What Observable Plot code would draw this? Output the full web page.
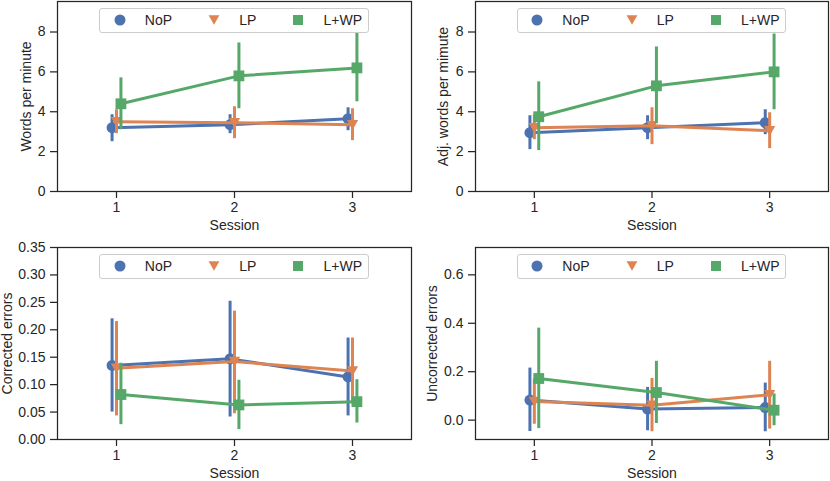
<!DOCTYPE html>
<html><head><meta charset="utf-8">
<script src="https://cdn.jsdelivr.net/npm/d3@7"></script>
<script src="https://cdn.jsdelivr.net/npm/@observablehq/plot@0.6"></script>
<style>
body{margin:0;background:#fff;}
#wrap{position:relative;width:830px;height:481px;font-family:"Liberation Sans",Arial,sans-serif;color:#262626;overflow:hidden;}
.panel{position:absolute;}
.legend{position:absolute;display:flex;align-items:center;height:25px;box-sizing:border-box;border:1px solid #cccccc;border-radius:3px;background:rgba(255,255,255,0.8);padding:0 5.6px;font-size:14px;white-space:nowrap;}
.legend .item{display:flex;align-items:center;}
.legend .handle{width:28px;height:14px;display:flex;justify-content:center;align-items:center;margin-right:11.2px;}
.legend .item + .item{margin-left:28px;}
</style>
</head><body><div id="wrap"></div>
<script>
// ---- categories ----
const sessions = [1, 2, 3];
const seriesNames = ["NoP", "LP", "L+WP"];
const seriesColors = ["#4C72B0", "#DD8452", "#55A868"];

// ---- Words per minute (rows: NoP, LP, L+WP; cols: session 1..3) ----
const wpmMean = [[3.2, 3.35, 3.65], [3.5, 3.45, 3.35], [4.4, 5.8, 6.2]];
const wpmLow  = [[2.5, 2.9, 3.05], [2.9, 2.65, 2.55], [3.1, 4.15, 4.5]];
const wpmHigh = [[3.85, 3.85, 4.2], [4.1, 4.25, 4.15], [5.7, 7.45, 7.95]];

// ---- Adj. words per minute ----
const adjMean = [[2.95, 3.2, 3.45], [3.2, 3.3, 3.05], [3.75, 5.3, 6.0]];
const adjLow  = [[2.1, 2.6, 2.85], [2.6, 2.35, 2.15], [2.05, 3.4, 4.1]];
const adjHigh = [[3.8, 3.8, 4.1], [3.85, 4.2, 3.95], [5.5, 7.25, 7.9]];

// ---- Corrected errors ----
const corMean = [[0.135, 0.147, 0.114], [0.130, 0.142, 0.125], [0.082, 0.063, 0.069]];
const corLow  = [[0.050, 0.041, 0.043], [0.043, 0.047, 0.065], [0.027, 0.018, 0.030]];
const corHigh = [[0.220, 0.252, 0.185], [0.215, 0.234, 0.185], [0.139, 0.108, 0.109]];

// ---- Uncorrected errors ----
const uncMean = [[0.083, 0.046, 0.052], [0.077, 0.061, 0.105], [0.172, 0.114, 0.041]];
const uncLow  = [[-0.047, -0.044, -0.048], [-0.017, -0.048, -0.037], [-0.035, -0.014, -0.023]];
const uncHigh = [[0.215, 0.135, 0.153], [0.170, 0.172, 0.243], [0.380, 0.243, 0.108]];

// ---- tick labels ----
const wpmTicks = [0, 2, 4, 6, 8];
const corTicks = [0, 0.05, 0.10, 0.15, 0.20, 0.25, 0.30, 0.35];
const uncTicks = [0, 0.2, 0.4, 0.6];

const dodge = 0.075;
const offsets = seriesNames.map((_, j) => -dodge / 2 + j * dodge / (seriesNames.length - 1));

const triangleDown = {
  draw(ctx, size) {
    const r = Math.sqrt(size / Math.PI);
    ctx.moveTo(-r, -r * 0.85);
    ctx.lineTo(r, -r * 0.85);
    ctx.lineTo(0, r * 0.95);
    ctx.closePath();
  }
};
const symbols = ["circle", triangleDown, "square"];
const radii = [5.5, 5.6, 6.1];

function rowsFor(M, L, H) {
  return seriesNames.map((s, j) => sessions.map((x, i) => ({series: s, j, session: x, mean: M[j][i], lo: L[j][i], hi: H[j][i]})));
}

const wrap = document.getElementById("wrap");
const FONT = '"Liberation Sans", Arial, sans-serif';

function panel({left, top, width, height, mL, mR, mT, mB, M, L, H, domain, ticks, fmt, ylabel, yLabelOffset}) {
  const rows = rowsFor(M, L, H);
  const marks = [];
  rows.forEach((r, j) => {
    const xf = d => d.session + offsets[j];
    marks.push(Plot.line(r, {x: xf, y: "mean", stroke: seriesColors[j], strokeWidth: 3}));
    marks.push(Plot.ruleX(r, {x: xf, y1: "lo", y2: "hi", stroke: seriesColors[j], strokeWidth: 3}));
    marks.push(Plot.dot(r, {x: xf, y: "mean", symbol: symbols[j], r: radii[j], fill: seriesColors[j], stroke: "none"}));
  });
  marks.push(Plot.frame({stroke: "#262626", strokeWidth: 1.25}));
  marks.push(Plot.axisX({ticks: sessions, tickFormat: d => String(d), tickSize: 7, tickPadding: 4, strokeWidth: 1.25,
    fontSize: 14, fontFamily: FONT,
    label: "Session", labelAnchor: "center", labelOffset: 38, labelArrow: "none"}));
  marks.push(Plot.axisY({ticks, tickFormat: fmt, tickSize: 7, tickPadding: 5, strokeWidth: 1.25,
    fontSize: 14, fontFamily: FONT,
    label: ylabel, labelAnchor: "center", labelOffset: yLabelOffset, labelArrow: "none"}));
  const svg = Plot.plot({
    width, height, marginLeft: mL, marginRight: mR, marginTop: mT, marginBottom: mB,
    x: {domain: [0.5, 3.5]},
    y: {domain},
    style: {fontFamily: FONT, fontSize: "14px", color: "#262626", background: "transparent", overflow: "visible"},
    marks
  });
  const div = document.createElement("div");
  div.className = "panel";
  div.style.left = left + "px";
  div.style.top = top + "px";
  div.appendChild(svg);
  wrap.appendChild(div);

  // legend (upper center inside the axes)
  const leg = document.createElement("div");
  leg.className = "legend";
  const shapes = [
    '<circle cx="6" cy="6" r="5.5"/>',
    '<polygon points="0.6,1.2 11.4,1.2 6,10.8"/>',
    '<rect x="1" y="1" width="10" height="10"/>'
  ];
  seriesNames.forEach((s, j) => {
    const it = document.createElement("div");
    it.className = "item";
    it.innerHTML = `<span class="handle"><svg width="12" height="12" fill="${seriesColors[j]}">${shapes[j]}</svg></span><span>${s}</span>`;
    leg.appendChild(it);
  });
  wrap.appendChild(leg);
  const fw = width - mL - mR;
  const lw = leg.offsetWidth;
  leg.style.left = (left + mL + (fw - lw) / 2) + "px";
  leg.style.top = (top + mT + 6.5) + "px";
}

panel({left: 0, top: 0, width: 415, height: 240, mL: 57, mR: 4, mT: 1, mB: 49,
  M: wpmMean, L: wpmLow, H: wpmHigh, domain: [0, 9.53], ticks: wpmTicks, fmt: d3.format("d"),
  ylabel: "Words per minute", yLabelOffset: 36});
panel({left: 415, top: 0, width: 415, height: 240, mL: 60, mR: 2, mT: 1, mB: 49,
  M: adjMean, L: adjLow, H: adjHigh, domain: [0, 9.53], ticks: wpmTicks, fmt: d3.format("d"),
  ylabel: "Adj. words per mimute", yLabelOffset: 37});
panel({left: 0, top: 240, width: 415, height: 241, mL: 57, mR: 4, mT: 7, mB: 42,
  M: corMean, L: corLow, H: corHigh, domain: [0, 0.35], ticks: corTicks, fmt: d3.format(".2f"),
  ylabel: "Corrected errors", yLabelOffset: 55});
panel({left: 415, top: 240, width: 415, height: 241, mL: 60, mR: 2, mT: 7, mB: 42,
  M: uncMean, L: uncLow, H: uncHigh, domain: [-0.08, 0.713], ticks: uncTicks, fmt: d3.format(".1f"),
  ylabel: "Uncorrected errors", yLabelOffset: 48});
</script>
</body></html>
